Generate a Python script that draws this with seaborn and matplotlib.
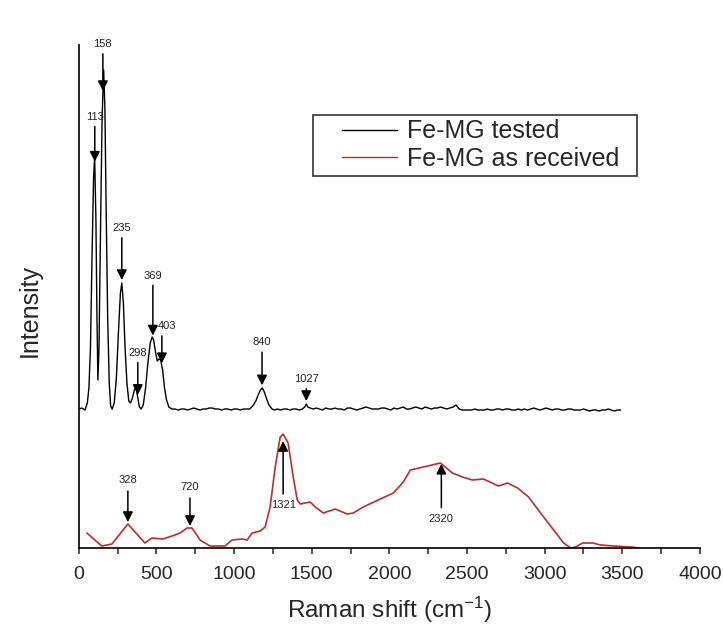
import numpy as np
import pandas as pd
import matplotlib
matplotlib.use('agg')
import matplotlib.pyplot as plt
from matplotlib.ticker import MultipleLocator
from matplotlib.patches import Rectangle
import seaborn as sns

sns.set_style('ticks')
plt.rcParams['font.family'] = ['Liberation Sans', 'DejaVu Sans']
plt.rcParams['mathtext.default'] = 'regular'

# Fe-MG tested (black), arbitrary intensity units
tested_peak_x = [0, 20, 40, 55, 65, 75, 85, 95, 102, 110, 117, 123, 130, 140, 150, 160, 168, 176,
                 186, 196, 205, 215, 228, 242, 255, 268, 277, 287, 298, 310, 322, 333, 345, 358,
                 368, 378, 390, 402, 415, 430, 445, 460, 472, 482, 495, 505, 515, 527, 540, 552,
                 565, 580, 600]
tested_peak_y = [139, 140, 138, 145, 160, 200, 290, 370, 391, 330, 230, 168, 200, 320, 430, 478, 440, 340,
                 230, 165, 142, 139, 145, 170, 215, 255, 265, 245, 200, 165, 147, 145, 150, 158,
                 161, 152, 141, 139, 143, 160, 185, 205, 211, 208, 195, 187, 189, 188, 178, 160,
                 148, 141, 139]
base_a_x = np.arange(620, 1100, 20)
base_a_y = [139, 138, 139, 139, 138, 139, 140, 139, 138, 139, 139, 140, 140, 139, 139, 138, 139, 139,
            138, 139, 139, 138, 139, 139]
peak_840_x = [1100, 1120, 1140, 1155, 1170, 1182, 1195, 1210, 1225, 1245]
peak_840_y = [139, 142, 147, 153, 158, 160, 156, 149, 143, 139]
base_b_x = np.arange(1260, 1440, 20)
base_b_y = [138, 139, 138, 139, 139, 138, 139, 139, 138]
peak_1027_x = [1440, 1455, 1465, 1475, 1490]
peak_1027_y = [139, 141, 144, 141, 140]
base_c_x = np.arange(1510, 3500, 20)
base_c_y = [139, 140, 139, 138, 140, 139, 139, 140, 139, 139,
            138, 140, 140, 139, 138, 139, 140, 141, 140, 139,
            139, 139, 140, 140, 139, 138, 140, 139, 140, 141,
            139, 139, 140, 141, 140, 139, 141, 140, 139, 140,
            140, 141, 140, 139, 140, 141, 143, 139, 138, 138,
            138, 138, 139, 138, 138, 138, 139, 138, 138, 139,
            139, 138, 139, 139, 138, 138, 139, 138, 139, 138,
            139, 140, 139, 138, 139, 140, 139, 138, 139, 139,
            138, 138, 139, 139, 138, 138, 138, 139, 138, 137,
            138, 138, 137, 138, 138, 139, 138, 137, 138, 138]

# Fe-MG as received (red)
received_x = [52, 148, 213, 316, 426, 471, 542, 619, 652, 697, 729, 781, 845, 942, 987, 1052, 1084,
              1116, 1168, 1200, 1232, 1265, 1297, 1316, 1348, 1381, 1407, 1426, 1490, 1523, 1574,
              1651, 1729, 1768, 1832, 1942, 2026, 2090, 2135, 2219, 2329, 2406, 2471, 2535, 2606,
              2703, 2761, 2826, 2897, 2974, 3058, 3123, 3168, 3200, 3245, 3310, 3361, 3445, 3555, 3606]
received_y = [15, 2, 4, 24, 5, 10, 9, 13, 15, 20, 20, 8, 2, 2, 8, 9, 8,
              15, 17, 21, 41, 81, 111, 114, 105, 71, 48, 44, 46, 41, 35,
              39, 34, 35, 41, 49, 55, 66, 78, 81, 85, 75, 71, 68, 69,
              62, 65, 60, 51, 35, 18, 5, 0, 1, 5, 5, 3, 2, 1, 0]

# peak labels: text, arrow x, text shift in x, text offset from tip
tested_labels = ['113', '158', '235', '298', '369', '403', '840', '1027']
tested_arrow_x = [103, 155, 277, 380, 477, 535, 1180, 1465]
tested_text_dx = [0, 0, 0, 0, 0, 35, 0, 0]
tested_text_dy = [45, 47, 52, 42, 60, 37, 43, 22]
received_labels = ['328', '720', '1321', '2320']
received_arrow_x = [316, 716, 1316, 2335]
received_tip_gap = [2, 2, -7, 0]
received_text_dy = [42, 39, -64, -55]

tested = pd.DataFrame({
    'shift': np.concatenate([tested_peak_x, base_a_x, peak_840_x, base_b_x, peak_1027_x, base_c_x]),
    'intensity': np.concatenate([tested_peak_y, base_a_y, peak_840_y, base_b_y, peak_1027_y, base_c_y]),
})
received = pd.DataFrame({'shift': received_x, 'intensity': received_y})

fig = plt.figure(figsize=(7.23, 6.26), dpi=100)
ax = fig.add_axes([0.109, 0.1246, 0.859, 0.8034])

sns.lineplot(data=tested, x='shift', y='intensity', color='black', lw=1.0,
             label='Fe-MG tested', ax=ax, sort=False)
sns.lineplot(data=received, x='shift', y='intensity', color='#b8302c', lw=1.2,
             label='Fe-MG as received', ax=ax, sort=False)

arrow = dict(arrowstyle='-|>,head_length=0.5,head_width=0.25', color='black', lw=1.1,
             mutation_scale=12, shrinkA=2, shrinkB=0)
for lab, xa, dx, dy in zip(tested_labels, tested_arrow_x, tested_text_dx, tested_text_dy):
    tip = np.interp(xa, tested['shift'], tested['intensity']) + 3
    ax.annotate('', xy=(xa, tip), xytext=(xa, tip + dy - 7), arrowprops=arrow)
    ax.text(xa + dx, tip + dy, lab, ha='center', va='center', fontsize=8, color='#222222')
for lab, xa, gap, dy in zip(received_labels, received_arrow_x, received_tip_gap, received_text_dy):
    tip = np.interp(xa, received['shift'], received['intensity']) + gap
    ax.annotate(lab, xy=(xa, tip), xytext=(xa, tip + dy), ha='center', va='center',
                fontsize=8, color='#222222', arrowprops=arrow)

ax.set_xlim(0, 4000)
ax.set_ylim(0, 503)
ax.xaxis.set_major_locator(MultipleLocator(500))
ax.xaxis.set_minor_locator(MultipleLocator(250))
ax.tick_params(axis='x', which='both', direction='out', length=4, width=1.1, labelsize=14, pad=9)
ax.set_yticks([])
sns.despine(ax=ax)
for s in ['left', 'bottom']:
    ax.spines[s].set_linewidth(1.2)
    ax.spines[s].set_color('black')

ax.set_xlabel('Raman shift (cm$^{-1}$)', fontsize=17.5)
ax.set_ylabel('Intensity', fontsize=18)
ax.xaxis.set_label_coords(0.5, -0.094)
ax.yaxis.set_label_coords(-0.06, 0.473)

# legend box drawn separately so its padding matches the original
ax.add_patch(Rectangle((0.377, 0.740), 0.522, 0.121, transform=ax.transAxes, fill=False,
                       edgecolor='#333333', lw=1.2, clip_on=False, zorder=4))
leg = ax.legend(loc='center left', bbox_to_anchor=(0.4235, 0.801), borderaxespad=0,
                frameon=False, fontsize=18, handlelength=2.2, handletextpad=0.4,
                labelspacing=0.15, borderpad=0)
for line in leg.get_lines():
    line.set_linewidth(1.0)

fig.savefig('out.png', dpi=100)
